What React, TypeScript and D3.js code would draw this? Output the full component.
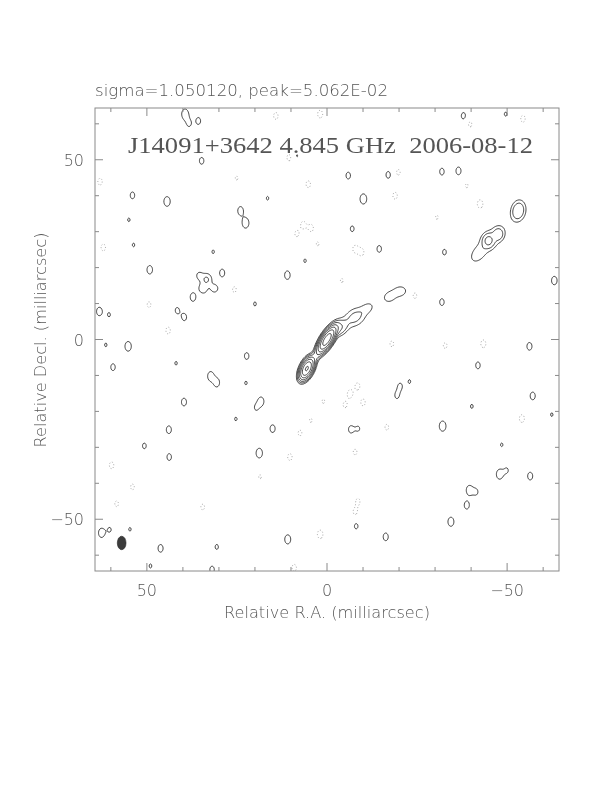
import React, { useMemo } from 'react';
import * as d3 from 'd3';

const W = 612;
const H = 792;
const frame = { left: 95, right: 559, top: 108, bottom: 571 };
const EXTENT = 64.4; // half width of the map, milliarcsec

const statsText = 'sigma=1.050120, peak=5.062E-02';
const titleText = 'J14091+3642 4.845 GHz  2006-08-12';
const xLabel = 'Relative R.A. (milliarcsec)';
const yLabel = 'Relative Decl. (milliarcsec)';

const majorTicks = [-50, 0, 50];
const minorTicks = [-60, -40, -30, -20, -10, 10, 20, 30, 40, 60];
const tickLabels = ['\u221250', '0', '50'];

// contour levels, in units of the lowest contour
const contourLevels = [1, 2, 4, 8, 16, 32, 64];

// source components: [RA, Dec, amplitude, sigma major, sigma minor, position angle]
const sourceComponents = [
  [0, 0, 100, 2.0, 0.75, -32],
  [5.6, -8.1, 70, 1.6, 0.8, -25],
  [2.8, -4.2, 3, 2.0, 0.7, -30],
  [-3.5, 3.2, 4, 1.6, 1.2, -45],
  [-7.8, 6.2, 2.6, 2.2, 1.6, -55],
  [-11.3, 8.8, 1.4, 1.4, 1.0, -55],
  [-17.4, 11.9, 1.8, 1.4, 1.1, -60],
  [-20.3, 13.4, 1.8, 1.4, 1.1, -80],
  [-44.8, 27.5, 4.0, 1.2, 1.0, 0],
  [-47.6, 29.3, 2.6, 1.1, 0.9, 0],
  [-45.5, 27.8, 1.6, 4.0, 1.9, -45],
  [-41.8, 23.5, 1.3, 1.8, 1.2, -40],
  [-53.1, 35.8, 3.9, 1.85, 1.27, -10],
  [33.4, 16.7, 2.2, 1.3, 1.1, 0],
  [34.5, 14.0, 1.5, 1.2, 1.0, 30],
  [31.2, 14.2, 1.6, 1.0, 0.9, 0],
  [35.5, 17.8, 1.3, 1.0, 0.8, 0],
];

// noise peaks above the lowest contour: [RA, Dec, amplitude]
const noisePositive = [
  [39.4, 62.7, 1.8], [38.3, 60.1, 1.2], [35.7, 60.8, 1.3], [34.8, 49.7, 1.3],
  [54.0, 40.1, 1.3], [44.4, 38.4, 1.7], [24.0, 35.8, 1.5], [22.6, 32.4, 1.8],
  [49.2, 19.4, 1.5], [29.1, 18.5, 1.4], [11.0, 17.9, 1.5], [37.2, 11.8, 1.5],
  [63.2, 7.8, 1.5], [41.6, 8.1, 1.2], [39.6, 6.2, 1.3],
  [8.4, 51.1, 1.08], [16.5, 39.3, 1.08], [55.0, 33.3, 1.08], [53.7, 26.3, 1.08],
  [31.6, 24.4, 1.08], [6.1, 21.9, 1.08], [20.0, 9.9, 1.1], [60.5, 6.9, 1.1],
  [-37.9, 62.2, 1.3], [-49.6, 62.7, 1.1], [-5.9, 45.6, 1.3], [-17.0, 45.8, 1.3],
  [-31.9, 46.7, 1.3], [-36.5, 46.9, 1.4], [-10.1, 39.1, 1.8], [-7.0, 30.8, 1.2],
  [-14.5, 25.2, 1.3], [-32.6, 24.3, 1.2], [-63.1, 16.4, 1.5], [-31.9, 10.4, 1.3],
  [55.2, -1.9, 1.7], [59.4, -7.7, 1.3], [22.3, -4.6, 1.3], [32.3, -10.2, 1.6],
  [30.6, -12.0, 1.5], [39.7, -17.4, 1.4], [18.3, -17.2, 1.5], [15.1, -24.8, 1.4],
  [43.9, -25.1, 1.4], [50.7, -29.6, 1.2], [43.8, -32.7, 1.3], [18.8, -31.6, 1.7],
  [62.6, -53.8, 1.6], [60.3, -52.9, 1.1], [46.2, -58.1, 1.4], [30.6, -57.7, 1.15],
  [10.9, -55.6, 1.6], [31.9, -64.0, 1.3], [49.0, -63.0, 1.1],
  [61.4, -1.5, 1.08], [41.9, -6.6, 1.08], [22.5, -12.1, 1.08], [19.7, -19.0, 1.08],
  [25.3, -22.1, 1.08], [54.7, -52.8, 1.08],
  [-56.2, -1.9, 1.4], [-41.9, -7.2, 1.3], [-20.3, -13.0, 1.2], [-19.4, -15.6, 1.2],
  [-22.9, -11.7, 1.08], [-57.1, -15.7, 1.4], [-40.2, -18.6, 1.1], [-32.1, -24.1, 1.8],
  [-6.6, -25.0, 1.3], [-8.7, -24.8, 1.08], [-62.4, -20.9, 1.08], [-48.5, -29.3, 1.08],
  [-47.9, -37.5, 1.7], [-49.9, -36.4, 1.1], [-56.4, -38.0, 1.4], [-39.5, -41.9, 1.6],
  [-41.4, -42.4, 1.15], [-38.8, -46.1, 1.4], [-34.4, -50.7, 1.6], [-8.1, -51.9, 1.2],
  [-16.3, -54.9, 1.4],
];

// noise troughs below minus the lowest contour: [RA, Dec, depth]
const noiseNegative = [
  [63.0, 43.9, 1.3], [14.2, 62.2, 1.3], [1.9, 62.7, 1.4], [10.5, 50.6, 1.3],
  [5.2, 43.2, 1.3], [25.1, 44.9, 1.1], [6.6, 31.9, 1.3], [4.4, 31.0, 1.3],
  [8.4, 29.4, 1.2], [62.1, 25.6, 1.3], [25.7, 13.9, 1.2], [49.4, 9.7, 1.2],
  [44.1, 2.5, 1.3], [2.6, 26.6, 1.1],
  [-19.8, 46.5, 1.2], [-18.9, 40.0, 1.3], [-42.5, 37.7, 1.5], [-7.8, 25.2, 1.3],
  [-9.6, 24.3, 1.3], [-24.4, 12.2, 1.2], [-4.1, 16.4, 1.1], [-39.7, 59.9, 1.2],
  [-54.4, 61.4, 1.3], [-38.8, 42.8, 1.1], [-30.5, 34.0, 1.1],
  [59.8, -35.0, 1.3], [54.0, -41.0, 1.2], [58.4, -45.7, 1.2], [34.5, -46.6, 1.2],
  [10.3, -32.7, 1.3], [1.9, -54.2, 1.5], [7.5, -26.0, 1.2], [4.5, -22.5, 1.1],
  [9.1, -63.5, 1.3], [1.0, -17.2, 1.1], [18.6, -38.2, 1.1],
  [-6.4, -15.1, 1.4], [-8.5, -13.0, 1.3], [-10.0, -17.5, 1.3], [-5.0, -18.2, 1.2],
  [-43.4, -1.2, 1.4], [-32.8, -1.7, 1.2], [-18.0, -1.2, 1.2], [-54.1, -22.0, 1.4],
  [-7.8, -31.3, 1.2], [-16.6, -24.4, 1.2], [-7.8, -48.0, 1.2], [-8.6, -45.0, 1.2],
];

const noiseShape = { major: 1.3, minor: 0.85, pa: 0 };
const beam = { ra: 57.0, dec: -56.6, major: 3.4, minor: 2.2 };

const x = d3.scaleLinear().domain([EXTENT, -EXTENT]).range([frame.left, frame.right]);
const y = d3.scaleLinear().domain([EXTENT, -EXTENT]).range([frame.top, frame.bottom]);

const GRID_EXT = 66;
const STEP = 0.25;

function buildField() {
  const n = Math.round((2 * GRID_EXT) / STEP) + 1;
  const field = new Float64Array(n * n);
  const add = (ra, dec, amp, sMaj, sMin, pa) => {
    const t = (pa * Math.PI) / 180;
    const s = Math.sin(t), c = Math.cos(t);
    const r = 4.5 * sMaj;
    const i0 = Math.max(0, Math.floor((GRID_EXT - (ra + r)) / STEP));
    const i1 = Math.min(n - 1, Math.ceil((GRID_EXT - (ra - r)) / STEP));
    const j0 = Math.max(0, Math.floor((GRID_EXT - (dec + r)) / STEP));
    const j1 = Math.min(n - 1, Math.ceil((GRID_EXT - (dec - r)) / STEP));
    for (let j = j0; j <= j1; j++) {
      const dy = GRID_EXT - j * STEP - dec;
      for (let i = i0; i <= i1; i++) {
        const dx = GRID_EXT - i * STEP - ra;
        const a = dx * s + dy * c;
        const b = dx * c - dy * s;
        field[j * n + i] += amp * Math.exp(-(a * a) / (2 * sMaj * sMaj) - (b * b) / (2 * sMin * sMin));
      }
    }
  };
  sourceComponents.forEach(([ra, dec, amp, a, b, pa]) => add(ra, dec, amp, a, b, pa));
  noisePositive.forEach(([ra, dec, amp]) => add(ra, dec, amp, noiseShape.major, noiseShape.minor, noiseShape.pa));
  noiseNegative.forEach(([ra, dec, amp]) => add(ra, dec, -amp, noiseShape.major, noiseShape.minor, noiseShape.pa));
  return { n, field };
}

export default function App() {
  const { positive, negative, path } = useMemo(() => {
    const { n, field } = buildField();
    const neg = Array.from(field, (v) => -v);
    const proj = d3.geoTransform({
      point(px, py) {
        this.stream.point(x(GRID_EXT - (px - 0.5) * STEP), y(GRID_EXT - (py - 0.5) * STEP));
      },
    });
    return {
      positive: d3.contours().size([n, n]).thresholds(contourLevels)(Array.from(field)),
      negative: d3.contours().size([n, n]).thresholds([1])(neg),
      path: d3.geoPath(proj),
    };
  }, []);

  const allTicks = [
    ...majorTicks.map((v) => ({ v, len: 8 })),
    ...minorTicks.map((v) => ({ v, len: 4 })),
  ];
  const axisColor = '#8a8a8a';
  const textColor = '#555';
  const sans = "'DejaVu Sans ExtraLight', 'DejaVu Sans'";

  return (
    <svg width={W} height={H} style={{ position: 'absolute', left: 0, top: 0, background: '#fff', filter: 'grayscale(1)' }}>
      <defs>
        <clipPath id="map-clip">
          <rect x={frame.left} y={frame.top} width={frame.right - frame.left} height={frame.bottom - frame.top} />
        </clipPath>
      </defs>

      <text x={95} y={96} fontFamily={sans} fontWeight={200} fontSize={15} fill={textColor}
        textLength={293} lengthAdjust="spacingAndGlyphs">{statsText}</text>

      <g clipPath="url(#map-clip)">
        {negative.map((c, i) => (
          <path key={'n' + i} d={path(c) || ''} fill="none" stroke="#9a9a9a" strokeWidth={0.9} strokeDasharray="1 2" />
        ))}
        {positive.map((c, i) => (
          <path key={'p' + i} d={path(c) || ''} fill="none" stroke="#2a2a2a" strokeWidth={0.9} />
        ))}
      </g>

      <ellipse cx={x(beam.ra)} cy={y(beam.dec)} rx={(x(0) - x(beam.minor / 2)) * 1.1} ry={(y(0) - y(beam.major / 2)) * 1.1}
        fill="#3c3c3c" stroke="#222" strokeWidth={0.6} />

      <text x={128} y={153} fontFamily="'Liberation Serif'" fontSize={23} fill="#555"
        textLength={405} lengthAdjust="spacingAndGlyphs" style={{ whiteSpace: 'pre' }}>{titleText}</text>

      <rect x={frame.left} y={frame.top} width={frame.right - frame.left} height={frame.bottom - frame.top}
        fill="none" stroke={axisColor} strokeWidth={1} />

      <g stroke={axisColor} strokeWidth={1}>
        {allTicks.map(({ v, len }) => (
          <g key={'t' + v}>
            <line x1={x(v)} x2={x(v)} y1={frame.bottom} y2={frame.bottom - len} />
            <line x1={x(v)} x2={x(v)} y1={frame.top} y2={frame.top + len} />
            <line x1={frame.left} x2={frame.left + len} y1={y(v)} y2={y(v)} />
            <line x1={frame.right} x2={frame.right - len} y1={y(v)} y2={y(v)} />
          </g>
        ))}
      </g>

      <g fontFamily={sans} fontWeight={200} fontSize={16} fill={textColor}>
        {majorTicks.map((v, i) => (
          <text key={'xl' + v} x={x(v)} y={596} textAnchor="middle">{tickLabels[i]}</text>
        ))}
        {majorTicks.map((v, i) => (
          <text key={'yl' + v} x={84} y={y(v) + 6} textAnchor="end">{tickLabels[i]}</text>
        ))}
      </g>

      <text x={327} y={618} fontFamily={sans} fontWeight={200} fontSize={15} fill={textColor} textAnchor="middle"
        textLength={206} lengthAdjust="spacingAndGlyphs">{xLabel}</text>
      <text transform="translate(46,340) rotate(-90)" fontFamily={sans} fontWeight={200} fontSize={15} fill={textColor}
        textAnchor="middle" textLength={215} lengthAdjust="spacingAndGlyphs">{yLabel}</text>
    </svg>
  );
}
